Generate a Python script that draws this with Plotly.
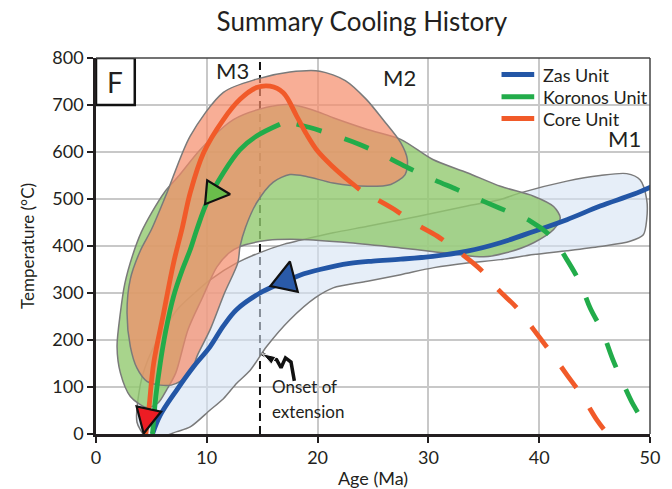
import plotly.graph_objects as go

FONT = "Lato"

# ---- axis ticks ----
x_ticks = [0, 10, 20, 30, 40, 50]
y_ticks = [0, 100, 200, 300, 400, 500, 600, 700, 800]

# ---- uncertainty envelopes: age (Ma) / temperature (C), traced clockwise ----
zas_env_age = [4.4, 3.7, 4.0, 4.4, 5.1, 6.2, 7.3, 8.8, 10.3, 12.7, 14.8, 17.0, 18.4, 21.4,
               24.5, 27.5, 30.5, 33.5, 36.5, 38.3, 42.5, 45.5, 47.9, 49.1, 49.7, 49.7,
               49.4, 48.2, 45.5, 42.5, 39.5, 36.5, 33.5, 30.5, 27.5, 24.5, 21.4, 19.8,
               17.5, 15.4, 13.9, 12.7, 11.5, 10.3, 8.5, 7.3, 5.5, 4.7, 4.4]
zas_env_temp = [-4, 25, 105, 140, 180, 225, 264, 298, 328, 364, 386, 404, 412, 428,
                442, 456, 470, 485, 499, 513, 538, 550, 554, 541, 499, 456,
                424, 410, 399, 390, 382, 371, 364, 354, 339, 325, 311, 290,
                243, 186, 135, 108, 75, 51, 15, 5, -9, -7, -4]

kor_env_age = [4.6, 3.1, 2.2, 1.9, 2.2, 2.6, 3.3, 4.1, 5.0, 6.2, 7.5, 9.4, 12.4, 15.4,
               17.5, 19.5, 21.4, 24.5, 27.5, 30.4, 33.5, 36.5, 39.5, 41.3, 41.9, 41.3,
               39.5, 37.1, 35.0, 32.6, 30.5, 27.5, 22.9, 18.4, 15.5, 13.0, 12.0, 10.9,
               9.6, 8.3, 7.2, 6.4, 5.6, 4.6]
kor_env_temp = [56, 80, 130, 186, 258, 320, 380, 430, 470, 515, 550, 605, 669, 695,
                701, 690, 673, 648, 627, 584, 556, 527, 506, 484, 460, 435,
                407, 386, 377, 382, 388, 396, 407, 414, 412, 399, 385, 355,
                290, 222, 130, 95, 66, 56]

core_env_age = [5.8, 4.6, 3.7, 3.1, 2.8, 3.1, 4.0, 5.0, 6.4, 8.5, 11.5, 14.5, 17.5, 20.2,
                22.5, 24.4, 25.9, 27.5, 28.1, 27.9, 26.6, 24.5, 21.4, 19.0, 17.5, 16.0,
                14.5, 13.5, 13.0, 12.8, 11.6, 10.3, 9.2, 8.5, 7.6, 6.8, 5.8]
core_env_temp = [104, 112, 140, 186, 258, 330, 390, 435, 513, 634, 727, 755, 770, 772,
                 752, 712, 669, 620, 584, 552, 531, 527, 534, 548, 552, 536,
                 492, 440, 399, 364, 300, 222, 170, 130, 112, 104, 104]

# ---- cooling paths ----
zas_age = [5.1, 5.8, 7.3, 8.8, 10.3, 11.5, 12.7, 14.8, 16.6, 18.4, 20.2, 22.9, 25.0,
           27.5, 30.4, 33.5, 36.5, 39.5, 42.5, 45.5, 48.5, 50.2]
zas_temp = [0, 40, 94, 143, 186, 230, 265, 300, 320, 338, 350, 363, 368,
            372, 378, 389, 407, 431, 456, 485, 510, 527]

kor_age = [5.1, 5.4, 5.8, 6.3, 7.0, 7.8, 8.5, 9.1, 10.0, 11.5, 13.0, 14.5, 16.6]
kor_temp = [0, 80, 151, 220, 293, 350, 392, 435, 492, 556, 605, 634, 659]
kor_dash_age = [18.1, 19.3, 21.7, 23.8, 26.1, 28.2, 30.5, 32.6, 35.0, 37.1, 39.2, 41.2,
                42.5, 43.7, 44.6, 45.7, 46.6, 47.5, 48.5, 49.3, 50.2]
kor_dash_temp = [659, 652, 634, 616, 591, 566, 541, 520, 495, 474, 453, 417,
                 371, 321, 268, 218, 161, 112, 62, 33, 17]

core_age = [4.5, 4.8, 5.2, 6.1, 7.0, 7.8, 8.5, 9.7, 11.5, 13.0, 14.5, 15.7, 16.9, 18.1,
            19.0, 20.0, 21.4, 22.6, 23.8]
core_temp = [0, 60, 150, 257, 364, 440, 513, 598, 669, 712, 737, 740, 726, 677,
             638, 602, 568, 543, 520]
core_dash_age = [25.5, 26.9, 28.7, 30.8, 32.9, 34.7, 36.3, 38.0, 39.5, 41.0, 42.5, 43.9,
                 45.2, 46.0]
core_dash_temp = [497, 478, 449, 421, 385, 350, 307, 268, 222, 175, 126, 80, 30, 5]

# direction arrows on each path (tip position)
arrow_age = [17.5, 12.1, 4.3]
arrow_temp = [367, 510, 1]
arrow_symbol = ["arrow-up", "arrow-right", "arrow-down"]
arrow_angle = [12, 5, 12]
arrow_size = [28, 24, 25]
arrow_fill = ["#2a5aa8", "#6abd4b", "#ed1c24"]

# onset of extension
onset_age = 14.8
squiggle_age = [17.9, 17.6, 17.1, 16.7, 16.3, 15.5, 15.0]
squiggle_temp = [113, 153, 162, 141, 158, 164, 171]

BLUE = "#2356a6"
GREEN = "#22ac4a"
RED = "#f15a29"
EDGE = "#7a7a7a"

fig = go.Figure()

# onset of extension marker line (under the envelopes)
fig.add_trace(go.Scatter(x=[onset_age, onset_age], y=[0, 800], mode="lines",
                         line=dict(color="#111111", width=2, dash="8px,5px"),
                         hoverinfo="skip", showlegend=False))

# envelopes
for ex, ey, fc in [(zas_env_age, zas_env_temp, "rgba(214,227,244,0.6)"),
                   (kor_env_age, kor_env_temp, "rgba(146,201,111,0.8)"),
                   (core_env_age, core_env_temp, "rgba(245,140,105,0.7)")]:
    fig.add_trace(go.Scatter(x=ex, y=ey, mode="lines", fill="toself", fillcolor=fc,
                             line=dict(color=EDGE, width=1.5, shape="spline", smoothing=0.8),
                             hoverinfo="skip", showlegend=False))

# cooling paths
LW = 4.8
fig.add_trace(go.Scatter(x=zas_age, y=zas_temp, mode="lines", name="Zas Unit",
                         line=dict(color=BLUE, width=LW, shape="spline"), showlegend=False))
fig.add_trace(go.Scatter(x=kor_age, y=kor_temp, mode="lines", name="Koronos Unit",
                         line=dict(color=GREEN, width=LW, shape="spline"), showlegend=False))
fig.add_trace(go.Scatter(x=kor_dash_age, y=kor_dash_temp, mode="lines",
                         line=dict(color=GREEN, width=LW, shape="spline", dash="26px,24px"),
                         showlegend=False))
fig.add_trace(go.Scatter(x=core_age, y=core_temp, mode="lines", name="Core Unit",
                         line=dict(color=RED, width=LW, shape="spline"), showlegend=False))
fig.add_trace(go.Scatter(x=core_dash_age, y=core_dash_temp, mode="lines",
                         line=dict(color=RED, width=LW, shape="spline", dash="26px,24px"),
                         showlegend=False))

# arrows
fig.add_trace(go.Scatter(x=arrow_age, y=arrow_temp, mode="markers", cliponaxis=False,
                         marker=dict(symbol=arrow_symbol, angle=arrow_angle, size=arrow_size,
                                     color=arrow_fill, opacity=1,
                                     line=dict(color="#111111", width=2.2)),
                         hoverinfo="skip", showlegend=False))

# squiggly pointer to onset line
fig.add_trace(go.Scatter(x=squiggle_age, y=squiggle_temp, mode="lines+markers",
                         line=dict(color="#111111", width=3.5),
                         marker=dict(symbol="arrow", angleref="previous", opacity=1,
                                     size=[0, 0, 0, 0, 0, 0, 14], color="#111111"),
                         hoverinfo="skip", showlegend=False))

# panel label box
fig.add_shape(type="rect", x0=0, x1=3.5, y0=700, y1=800, xref="x", yref="y",
              line=dict(color="#111111", width=2.5), fillcolor="white", layer="above")

# frame (top and right)
fig.add_shape(type="line", xref="paper", yref="paper", x0=0, x1=1, y0=1, y1=1,
              line=dict(color="#444444", width=1.5))
fig.add_shape(type="line", xref="paper", yref="paper", x0=1, x1=1, y0=0, y1=1,
              line=dict(color="#444444", width=1.5))

# legend drawn as keyed lines
legend_names = ["Zas Unit", "Koronos Unit", "Core Unit"]
legend_colors = [BLUE, GREEN, RED]
legend_y = [0.956, 0.897, 0.839]
for name, col, ly in zip(legend_names, legend_colors, legend_y):
    fig.add_shape(type="line", xref="paper", yref="paper", x0=0.732, x1=0.791, y0=ly, y1=ly,
                  line=dict(color=col, width=5))
    fig.add_annotation(x=0.803, y=ly, xref="paper", yref="paper", text=name, showarrow=False,
                       xanchor="left", yanchor="middle", font=dict(size=18, color="#231f20"))

fig.add_annotation(x=1.75, y=750, text="F", font=dict(size=28, color="#231f20"), showarrow=False)
fig.add_annotation(x=12.3, y=773, text="M3", font=dict(size=22, color="#231f20"), showarrow=False)
fig.add_annotation(x=27.4, y=759, text="M2", font=dict(size=22, color="#231f20"), showarrow=False)
fig.add_annotation(x=47.7, y=629, text="M1", font=dict(size=22, color="#231f20"), showarrow=False)
fig.add_annotation(x=15.7, y=102, text="Onset of", xanchor="left",
                   font=dict(size=17, color="#231f20"), showarrow=False)
fig.add_annotation(x=15.7, y=47, text="extension", xanchor="left",
                   font=dict(size=17, color="#231f20"), showarrow=False)

fig.update_layout(
    width=672, height=489,
    margin=dict(l=96, r=22, t=58, b=55),
    paper_bgcolor="white", plot_bgcolor="white",
    font=dict(family=FONT, color="#231f20"),
    title=dict(text="Summary Cooling History", x=0.48, xref="paper", xanchor="center",
               y=0.955, yref="container", yanchor="middle",
               font=dict(size=26, color="#231f20")),
    showlegend=False,
)
fig.update_xaxes(range=[0, 50], tickvals=x_ticks, ticks="outside", ticklen=6, tickwidth=2,
                 tickcolor="#231f20", showline=True, linecolor="#231f20", linewidth=2.5,
                 showgrid=True, gridcolor="#c8c8c8", gridwidth=1.5, zeroline=False,
                 automargin=False,
                 tickfont=dict(size=18), title=dict(text="Age (Ma)", font=dict(size=18), standoff=8))
fig.update_yaxes(range=[0, 800], tickvals=y_ticks, ticks="outside", ticklen=6, tickwidth=2,
                 tickcolor="#231f20", showline=True, linecolor="#231f20", linewidth=2.5,
                 showgrid=True, gridcolor="#c8c8c8", gridwidth=1.5, zeroline=False,
                 automargin=False,
                 tickfont=dict(size=18), title=dict(text="Temperature (°C)", font=dict(size=17), standoff=14))

fig.write_html("out.html")
